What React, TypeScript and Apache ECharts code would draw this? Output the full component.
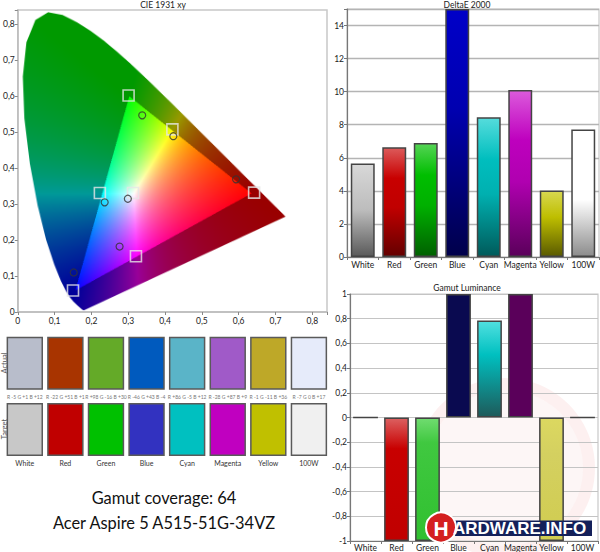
import React, { useEffect, useRef } from "react";
import * as echarts from "echarts";

// ---------- data ----------
const categories = ["White", "Red", "Green", "Blue", "Cyan", "Magenta", "Yellow", "100W"];
const deltaE = [5.65, 6.64, 6.9, 15, 8.45, 10.1, 4.02, 7.71];
const gamutLuminance = [0, -1, -1, 1, 0.785, 1, -1, 0];

// target (sRGB) points: white, red, green, blue, cyan, magenta, yellow
const targetPoints = [
  [0.313, 0.331],
  [0.642, 0.332],
  [0.301, 0.602],
  [0.15, 0.06],
  [0.223, 0.331],
  [0.321, 0.155],
  [0.42, 0.508],
];
// measured points
const measuredPoints = [
  [0.299, 0.315],
  [0.593, 0.369],
  [0.338, 0.547],
  [0.152, 0.11],
  [0.236, 0.305],
  [0.2765, 0.182],
  [0.4225, 0.489],
];

// CIE 1931 spectral locus (380 - 700 nm)
const spectralLocus = [
  [0.1741, 0.005], [0.1733, 0.0048], [0.1714, 0.0051], [0.1689, 0.0069], [0.1644, 0.0109],
  [0.1566, 0.0177], [0.144, 0.0297], [0.1355, 0.0399], [0.1241, 0.0578], [0.1096, 0.0868],
  [0.0913, 0.1327], [0.0687, 0.2007], [0.0454, 0.295], [0.0235, 0.4127], [0.0082, 0.5384],
  [0.0039, 0.6548], [0.0139, 0.7502], [0.0389, 0.812], [0.0743, 0.8338], [0.1142, 0.8262],
  [0.1547, 0.8059], [0.1929, 0.7816], [0.2296, 0.7543], [0.2658, 0.7243], [0.3016, 0.6923],
  [0.3373, 0.6589], [0.3731, 0.6245], [0.4087, 0.5896], [0.4441, 0.5547], [0.4788, 0.5202],
  [0.5125, 0.4866], [0.5448, 0.4544], [0.5752, 0.4242], [0.6029, 0.3965], [0.627, 0.3725],
  [0.6482, 0.3514], [0.6658, 0.334], [0.6915, 0.3083], [0.7079, 0.292], [0.719, 0.2809],
  [0.726, 0.274], [0.7334, 0.2666], [0.7347, 0.2653],
];

const actualColors = ["#b8bdcb", "#a83400", "#64aa28", "#005abe", "#5ab4c8", "#a05ac8", "#bea828", "#e6ebfa"];
const targetColors = ["#c8c8c8", "#c00000", "#00c000", "#3232c0", "#00c0c0", "#c000c0", "#c0c000", "#f0f0f0"];
const deltaTexts = [
  "R -5 G +1 B +12", "R -22 G +51 B +1", "R +98 G -16 B +30", "R -46 G +43 B -4",
  "R +86 G -5 B +12", "R -28 G +87 B +9", "R -1 G -11 B +36", "R -7 G 0 B +17",
];
const rowNames = ["Target", "Actual"];

// ---------- styles ----------
const FONT = "Lato";
const CIE_MAX = 0.84;

type Stop = [number, string];
const deltaStops: Stop[][] = [
  [[0, "#d8d8d8"], [0.5, "#bcbcbc"], [1, "#5a5a5a"]],
  [[0, "#dc5a5a"], [0.28, "#c80000"], [0.55, "#c00000"], [1, "#640000"]],
  [[0, "#55d455"], [0.28, "#00be00"], [0.55, "#00b000"], [1, "#006000"]],
  [[0, "#0000c8"], [0.4, "#0000b0"], [1, "#00004a"]],
  [[0, "#55dcdc"], [0.3, "#00bebe"], [0.55, "#00b0b0"], [1, "#005a5a"]],
  [[0, "#dc5adc"], [0.3, "#be00be"], [0.55, "#b000b0"], [1, "#5a005a"]],
  [[0, "#d8d850"], [0.4, "#bebe00"], [1, "#5a5a00"]],
  [[0, "#ffffff"], [0.55, "#ffffff"], [1, "#8c8c8c"]],
];
const lumStops: Stop[][] = [
  [[0, "#444"], [1, "#444"]],
  [[0, "#dc6060"], [0.25, "#c80000"], [1, "#c00000"]],
  [[0, "#70dc70"], [0.2, "#40c840"], [1, "#30c030"]],
  [[0, "#0a0a50"], [1, "#0a0a50"]],
  [[0, "#50e0e0"], [0.35, "#00c0c0"], [1, "#1e5a5a"]],
  [[0, "#5a005a"], [1, "#5a005a"]],
  [[0, "#dcd860"], [0.3, "#d4d060"], [1, "#d0cc50"]],
  [[0, "#444"], [1, "#444"]],
];

const grad = (stops: Stop[]) =>
  new echarts.graphic.LinearGradient(0, 0, 0, 1, stops.map(([offset, color]) => ({ offset, color })));

function makeCieImage(): string {
  const N = 640;
  const off = document.createElement("canvas");
  off.width = N;
  off.height = N;
  const octx = off.getContext("2d")!;
  const img = octx.createImageData(N, N);
  for (let py = 0; py < N; py++) {
    const y = CIE_MAX - ((py + 0.5) / N) * CIE_MAX;
    for (let px = 0; px < N; px++) {
      const x = ((px + 0.5) / N) * CIE_MAX;
      const i = (py * N + px) * 4;
      if (y < 0.002) continue;
      const X = x / y;
      const Z = (1 - x - y) / y;
      const R = 3.2406 * X - 1.5372 - 0.4986 * Z;
      const G = -0.9689 * X + 1.8758 + 0.0415 * Z;
      const B = 0.0557 * X - 0.204 + 1.057 * Z;
      const inside = R >= 0 && G >= 0 && B >= 0;
      let r = Math.max(R, 0), g = Math.max(G, 0), b = Math.max(B, 0);
      const m = Math.max(r, g, b) || 1;
      r /= m; g /= m; b /= m;
      if (inside) {
        r = Math.pow(r, 0.85); g = Math.pow(g, 0.85); b = Math.pow(b, 0.85);
      } else {
        r *= 0.6; g *= 0.6; b *= 0.6;
      }
      img.data[i] = Math.round(r * 255);
      img.data[i + 1] = Math.round(g * 255);
      img.data[i + 2] = Math.round(b * 255);
      img.data[i + 3] = 255;
    }
  }
  octx.putImageData(img, 0, 0);
  const cv = document.createElement("canvas");
  cv.width = N;
  cv.height = N;
  const ctx = cv.getContext("2d")!;
  ctx.beginPath();
  spectralLocus.forEach(([x, y], k) => {
    const px = (x / CIE_MAX) * N;
    const py = ((CIE_MAX - y) / CIE_MAX) * N;
    if (k === 0) ctx.moveTo(px, py);
    else ctx.lineTo(px, py);
  });
  ctx.closePath();
  ctx.clip();
  ctx.drawImage(off, 0, 0);
  return cv.toDataURL("image/png");
}

const comma = (v: number) => String(Math.round(v * 10) / 10).replace(".", ",");

export default function App() {
  const ref = useRef<HTMLDivElement>(null);
  useEffect(() => {
    if (!ref.current) return;
    const chart = echarts.init(ref.current, undefined, { renderer: "svg" });
    const cieImage = makeCieImage();

    const labelStyle = { fontFamily: FONT, fontSize: 8.5, color: "#222" };

    const option: any = {
      animation: false,
      backgroundColor: "#ffffff",
      textStyle: { fontFamily: FONT },
      grid: [
        { left: 14, top: 10, width: 313, height: 302, show: true, borderColor: "#c8c8c8", borderWidth: 1.5 },
        { left: 347, top: 9, width: 252, height: 248, show: true, borderColor: "#c8c8c8", borderWidth: 1.2 },
        { left: 350, top: 294, width: 248, height: 248, show: true, borderColor: "#c8c8c8", borderWidth: 1.2 },
        { left: 4.5, top: 330.2, width: 324.7, height: 132.4, show: false },
      ],
      xAxis: [
        {
          gridIndex: 0, type: "value", min: 0, max: CIE_MAX, interval: 0.1,
          axisLine: { show: true, lineStyle: { color: "#bbbbbb", width: 1.5 } },
          axisTick: { show: true, length: 3, lineStyle: { color: "#888" } },
          splitLine: { show: false },
          axisLabel: { ...labelStyle, margin: 4, formatter: (v: number) => (Math.abs(v * 10 - Math.round(v * 10)) > 0.01 ? "" : comma(v)) },
        },
        {
          gridIndex: 1, type: "category", data: categories,
          axisLine: { show: true, lineStyle: { color: "#777", width: 1.2 } },
          axisTick: { show: true, length: 3, lineStyle: { color: "#777" } },
          axisLabel: { ...labelStyle, margin: 3, interval: 0 },
        },
        {
          gridIndex: 2, type: "category", data: categories,
          axisLine: { show: true, onZero: false, lineStyle: { color: "#777", width: 1.2 } },
          axisTick: { show: true, length: 3, lineStyle: { color: "#777" } },
          axisLabel: { ...labelStyle, margin: 2, interval: 0 },
        },
        { gridIndex: 3, type: "category", data: categories, show: false },
      ],
      yAxis: [
        {
          gridIndex: 0, type: "value", min: 0, max: CIE_MAX, interval: 0.1,
          axisLine: { show: true, lineStyle: { color: "#bbbbbb", width: 1.5 } },
          axisTick: { show: true, length: 3, lineStyle: { color: "#888" } },
          splitLine: { show: false },
          axisLabel: { ...labelStyle, margin: 3, formatter: (v: number) => (Math.abs(v * 10 - Math.round(v * 10)) > 0.01 ? "" : comma(v)) },
        },
        {
          gridIndex: 1, type: "value", min: 0, max: 15, interval: 2,
          axisLine: { show: true, lineStyle: { color: "#777", width: 1.2 } },
          axisTick: { show: true, length: 3, lineStyle: { color: "#777" } },
          splitLine: { show: true, lineStyle: { color: "#b4b4b4", width: 1.3 } },
          axisLabel: { ...labelStyle, margin: 3, formatter: (v: number) => (v > 14.5 ? "" : String(v)) },
        },
        {
          gridIndex: 2, type: "value", min: -1, max: 1, interval: 0.2,
          axisLine: { show: true, lineStyle: { color: "#777", width: 1.2 } },
          axisTick: { show: true, length: 3, lineStyle: { color: "#777" } },
          splitLine: { show: true, lineStyle: { color: "#c4c4c4", width: 1.2 } },
          axisLabel: { ...labelStyle, margin: 3, formatter: (v: number) => comma(v) },
        },
        { gridIndex: 3, type: "category", data: rowNames, show: false },
      ],
      series: [
        {
          type: "custom",
          xAxisIndex: 0,
          yAxisIndex: 0,
          silent: true,
          z: 1,
          data: [[0, 0]],
          renderItem: (_p: any, api: any) => {
            const tl = api.coord([0, CIE_MAX]);
            const br = api.coord([CIE_MAX, 0]);
            return {
              type: "image",
              style: { image: cieImage, x: tl[0], y: tl[1], width: br[0] - tl[0], height: br[1] - tl[1] },
            };
          },
        },
        {
          type: "scatter",
          xAxisIndex: 0,
          yAxisIndex: 0,
          z: 3,
          symbol: "rect",
          symbolSize: 11,
          data: targetPoints,
          itemStyle: { color: "rgba(0,0,0,0)", borderColor: "#e6e6e6", borderWidth: 1.6 },
        },
        {
          type: "scatter",
          xAxisIndex: 0,
          yAxisIndex: 0,
          z: 4,
          symbol: "circle",
          symbolSize: 7,
          data: measuredPoints,
          itemStyle: { color: "rgba(0,0,0,0)", borderColor: "#333", borderWidth: 1.2 },
        },
        {
          type: "bar",
          xAxisIndex: 1,
          yAxisIndex: 1,
          barWidth: "76%",
          data: deltaE.map((v, i) => ({
            value: v,
            itemStyle: { color: grad(deltaStops[i]), borderColor: "#444", borderWidth: 1.5 },
          })),
        },
        {
          type: "bar",
          xAxisIndex: 2,
          yAxisIndex: 2,
          barWidth: "80%",
          data: gamutLuminance.map((v, i) => ({
            value: v,
            itemStyle: { color: grad(lumStops[i]), borderColor: "#444", borderWidth: 1.5 },
          })),
        },
        {
          type: "custom",
          xAxisIndex: 3,
          yAxisIndex: 3,
          silent: true,
          data: categories.flatMap((_c, i) => [[i, 1], [i, 0]]),
          renderItem: (_p: any, api: any) => {
            const ci = api.value(0) as number;
            const ri = api.value(1) as number;
            const c = api.coord([ci, ri]);
            const s = api.size([1, 1]) as number[];
            const w = s[0] * 0.86;
            const h = s[1] * 0.78;
            const isActual = ri === 1;
            return {
              type: "group",
              children: [
                {
                  type: "rect",
                  shape: { x: c[0] - w / 2, y: c[1] - h / 2, width: w, height: h },
                  style: { fill: isActual ? actualColors[ci] : targetColors[ci], stroke: "#5a5a5a", lineWidth: 1.5 },
                },
                {
                  type: "text",
                  x: c[0],
                  y: c[1] + h / 2 + 7.5,
                  style: {
                    text: isActual ? deltaTexts[ci] : categories[ci],
                    fill: isActual ? "#777" : "#333",
                    fontSize: isActual ? 5 : 7,
                    fontFamily: FONT,
                    align: "center",
                    verticalAlign: "middle",
                  },
                },
              ],
            };
          },
        },
      ],
      graphic: [
        // faint watermark
        { type: "circle", z: -1, shape: { cx: 505, cy: 468, r: 78 }, style: { fill: "rgba(225,70,70,0.05)" } },
        { type: "ring", z: -1, shape: { cx: 505, cy: 468, r: 90, r0: 78 }, style: { fill: "rgba(225,70,70,0.08)" } },
        // titles
        { type: "text", x: 163, y: 4.5, style: { text: "CIE 1931 xy", fontSize: 8.5, fontFamily: FONT, fill: "#222", align: "center", verticalAlign: "middle" } },
        { type: "text", x: 467, y: 4.5, style: { text: "DeltaE 2000", fontSize: 8.5, fontFamily: FONT, fill: "#222", align: "center", verticalAlign: "middle" } },
        { type: "text", x: 467, y: 287.5, style: { text: "Gamut Luminance", fontSize: 8.5, fontFamily: FONT, fill: "#222", align: "center", verticalAlign: "middle" } },
        // swatch row labels
        { type: "text", x: 4.5, y: 363, rotation: Math.PI / 2, style: { text: "Actual", fontSize: 7.5, fontFamily: FONT, fill: "#555", align: "center", verticalAlign: "middle" } },
        { type: "text", x: 4.5, y: 429, rotation: Math.PI / 2, style: { text: "Target", fontSize: 7.5, fontFamily: FONT, fill: "#555", align: "center", verticalAlign: "middle" } },
        // big texts
        { type: "text", x: 164, y: 497.5, style: { text: "Gamut coverage: 64", fontSize: 16.4, fontFamily: FONT, fill: "#111", align: "center", verticalAlign: "middle" } },
        { type: "text", x: 164, y: 522.5, style: { text: "Acer Aspire 5 A515-51G-34VZ", fontSize: 16.4, fontFamily: FONT, fill: "#111", align: "center", verticalAlign: "middle" } },
        // logo
        { type: "rect", z: 10, shape: { x: 428, y: 520.5, width: 164, height: 15.5 }, style: { fill: "#14205a" } },
        { type: "circle", z: 11, shape: { cx: 441, cy: 527.5, r: 15 }, style: { fill: "#d42020", stroke: "#ffffff", lineWidth: 2 } },
        { type: "text", z: 12, x: 441, y: 528.5, style: { text: "H", fontSize: 21, fontWeight: "bold", fontFamily: "Liberation Sans", fill: "#ffffff", align: "center", verticalAlign: "middle" } },
        { type: "text", z: 12, x: 453, y: 528.5, style: { text: "ARDWARE.INFO", fontSize: 17, fontWeight: "bold", fontFamily: "Liberation Sans", fill: "#ffffff", align: "left", verticalAlign: "middle" } },
      ],
    };
    chart.setOption(option);
    return () => chart.dispose();
  }, []);
  return <div ref={ref} style={{ position: "absolute", left: 0, top: 0, width: 600, height: 552 }} />;
}
